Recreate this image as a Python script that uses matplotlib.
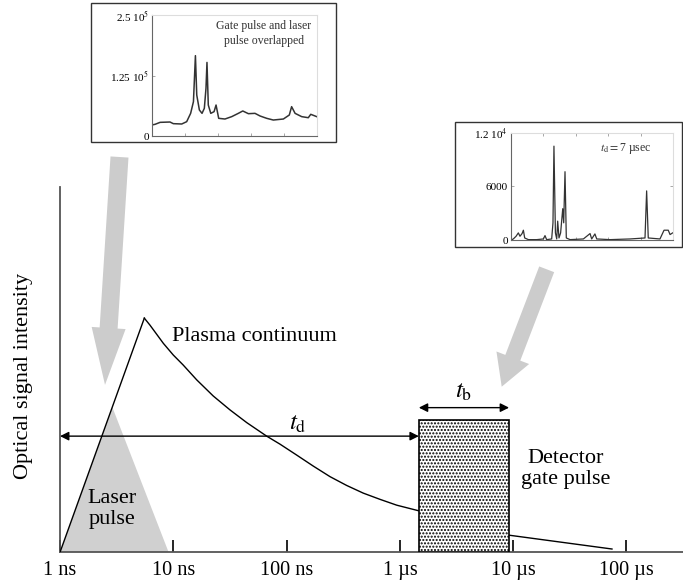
import numpy as np
import matplotlib
matplotlib.use('Agg')
import matplotlib.pyplot as plt
from matplotlib.patches import Rectangle, Polygon, FancyArrow

plt.rcParams['font.family'] = ['Liberation Serif', 'DejaVu Serif']
plt.rcParams['mathtext.fontset'] = 'stix'
plt.rcParams['hatch.linewidth'] = 1.0

W, H = 683, 584

# main schematic: time in ns, intensity in fraction of axis height
tick_times = [1, 10, 100, 1e3, 1e4, 1e5]
tick_labels = ['1 ns', '10 ns', '100 ns', '1 µs', '10 µs', '100 µs']

rise_t = [1.0, 5.55]
rise_i = [0.0, 0.641]
decay_t = [5.55, 6.22, 7.13, 8.17, 10.0, 12.2, 16.1, 22.5, 31.6, 44.5, 66.7, 87.5, 123,
           172, 242, 339, 475, 667, 938, 1452, 9120, 74500]
decay_i = [0.641, 0.622, 0.597, 0.572, 0.540, 0.513, 0.472, 0.428, 0.390, 0.355, 0.318,
           0.296, 0.266, 0.236, 0.207, 0.183, 0.162, 0.145, 0.129, 0.114, 0.047, 0.009]

laser_t = [1.0, 2.9, 9.1]
laser_i = [0.0, 0.397, 0.0]

gate_start, gate_end, gate_height = 1470, 9200, 0.362
td_level = 0.318
tb_level = 0.396

# inset 1: gate pulse and laser pulse overlapped
spec1_x = [0, 2.0, 5.1, 11.1, 13.1, 18.2, 21.2, 23.6, 25.3, 26.5, 27.3, 28.9, 30.5, 31.9,
           32.9, 33.5, 34.3, 35.8, 37.8, 39.0, 40.6, 44.4, 48.5, 52.5, 55.2, 58.6, 62.6,
           65.7, 69.7, 73.7, 79.8, 83.4, 84.8, 86.9, 90.9, 94.9, 96.4, 100]
spec1_y = [22.7e3, 24.1e3, 28.2e3, 28.9e3, 25.5e3, 24.8e3, 29.6e3, 46.8e3, 71e3, 166e3,
           84.7e3, 53.7e3, 46.8e3, 57.2e3, 98.5e3, 152e3, 64e3, 46.8e3, 50.3e3, 64e3,
           36.5e3, 35.1e3, 40e3, 46.8e3, 51.7e3, 46.1e3, 46.8e3, 41.3e3, 36.5e3, 33e3,
           35.1e3, 43.4e3, 60.6e3, 46.8e3, 40e3, 37.8e3, 44.8e3, 40e3]

# inset 2: td = 7 usec
spec2_x = [0, 1.6, 3.3, 4.7, 5.7, 7.0, 7.8, 8.6, 10.9, 16.0, 20.1, 21.1, 22.1, 25.2, 26.0,
           26.6, 27.5, 28.3, 28.9, 29.7, 30.7, 32.0, 32.6, 33.4, 34.2, 36.5, 44.7, 48.8,
           49.8, 51.8, 52.9, 61.1, 73.4, 82.6, 83.6, 84.6, 91.8, 94.3, 96.9, 98.0, 99.6]
spec2_y = [0, 150, 450, 825, 450, 750, 1125, 260, 75, 75, 150, 525, 75, 150, 1950,
           10500, 825, 150, 2140, 260, 825, 3525, 1950, 7650, 260, 75, 150, 750,
           150, 710, 150, 75, 150, 260, 5510, 260, 150, 1125, 1125, 640, 825]


def px_rect(x0, y0, x1, y1):
    return [x0 / W, 1 - y1 / H, (x1 - x0) / W, (y1 - y0) / H]


fig = plt.figure(figsize=(W / 100, H / 100), dpi=100)

# overlay in pixel coordinates for frames and big gray arrows
over = fig.add_axes([0, 0, 1, 1])
over.set_xlim(0, W)
over.set_ylim(H, 0)
over.axis('off')
over.add_patch(Rectangle((91, 3), 245, 139, fill=False, ec='#333333', lw=1.0))
over.add_patch(Rectangle((455, 122), 227, 125, fill=False, ec='#333333', lw=1.0))
over.add_patch(FancyArrow(119.5, 157, -14.5 * (171 / 228), 171, width=18, head_width=34,
                          head_length=57, length_includes_head=False, color='#cccccc', lw=0))
dx, dy = 501.7 - 546.7, 386.7 - 269.3
L = np.hypot(dx, dy)
sl = L - 31
over.add_patch(FancyArrow(546.7, 269.3, dx * sl / L, dy * sl / L, width=16, head_width=35,
                          head_length=31, color='#cccccc', lw=0))

# main axes
ax = fig.add_axes(px_rect(60, 187, 683, 552.3))
ax.patch.set_alpha(0)
ax.set_xscale('log')
ax.set_xlim(1, 10 ** 5.499)
ax.set_ylim(0, 1)
for s in ['top', 'right']:
    ax.spines[s].set_visible(False)
for s in ['left', 'bottom']:
    ax.spines[s].set_color('#555555')
    ax.spines[s].set_linewidth(1.3)
ax.set_yticks([])
ax.set_xticks(tick_times)
ax.set_xticklabels(tick_labels, fontsize=14.6)
ax.minorticks_off()
ax.tick_params(axis='x', direction='in', length=9, width=1.2, color='black', pad=6)
ax.text(-36 / 623, 0.4826, 'Optical signal intensity', fontsize=16, rotation=90,
        ha='center', va='center', transform=ax.transAxes)

ax.add_patch(Polygon(list(zip(laser_t, laser_i)), closed=True, fc='#d0d0d0', ec='none', zorder=1))
ax.plot(rise_t, rise_i, color='black', lw=1.0, zorder=3)
ax.plot(decay_t, decay_i, color='black', lw=1.0, zorder=3)
ax.add_patch(Rectangle((gate_start, 0), gate_end - gate_start, gate_height, fc='white',
                       ec='black', lw=1.2, hatch='.....', zorder=4))

arrow_kw = dict(arrowstyle='<|-|>', color='black', lw=1.0, mutation_scale=13, shrinkA=0, shrinkB=0)
ax.annotate('', xy=(gate_start, td_level), xytext=(1, td_level), arrowprops=arrow_kw, zorder=5)
ax.annotate('', xy=(gate_end, tb_level), xytext=(gate_start, tb_level), arrowprops=arrow_kw, zorder=5)

ax.text(126, 0.352, r'$t_{\rm d}$', fontsize=18, ha='center', va='center')
ax.text(3680, 0.44, r'$t_{\rm b}$', fontsize=18, ha='center', va='center')
ax.text(9.75, 0.59, 'Plasma continuum', fontsize=16, ha='left', va='center')
ax.text(2.9, 0.118, 'Laser\npulse', fontsize=16, ha='center', va='center', linespacing=1.15)
ax.text(2.92e4, 0.227, 'Detector\ngate pulse', fontsize=16, ha='center', va='center', linespacing=1.15)

# inset 1
in1 = fig.add_axes(px_rect(151.7, 15, 316.7, 136))
in1.plot(spec1_x, spec1_y, color='#333333', lw=1.1)
in1.set_xlim(0, 100)
in1.set_ylim(0, 2.5e5)
in1.set_yticks([0, 1.25e5, 2.5e5])
in1.set_yticklabels(['0', r'1.25 10$^5$', r'2.5 10$^5$'], fontsize=8)
in1.set_xticks([20, 40, 60, 80])
in1.set_xticklabels([])
in1.tick_params(direction='in', length=2, width=0.6, pad=2, color='#999999')
for s in ['top', 'right']:
    in1.spines[s].set_color('#dddddd')
for s in ['left', 'bottom']:
    in1.spines[s].set_color('#666666')
    in1.spines[s].set_linewidth(0.8)
in1.text(68, 2.12e5, 'Gate pulse and laser\npulse overlapped', fontsize=8.5, ha='center',
         va='center', color='#333333', linespacing=1.3)

# inset 2
in2 = fig.add_axes(px_rect(510.7, 132.7, 673.3, 240.3))
in2.plot(spec2_x, spec2_y, color='#333333', lw=0.9)
in2.set_xlim(0, 100)
in2.set_ylim(0, 12000)
in2.set_yticks([0, 6000, 12000])
in2.set_yticklabels(['0', '6000', r'1.2 10$^4$'], fontsize=8)
in2.set_xticks([20, 40, 60, 80])
in2.set_xticklabels([])
in2.tick_params(direction='in', length=2, width=0.6, pad=2, color='#999999', top=True, right=True)
for s in ['top', 'right']:
    in2.spines[s].set_color('#dddddd')
for s in ['left', 'bottom']:
    in2.spines[s].set_color('#666666')
    in2.spines[s].set_linewidth(0.8)
in2.text(71, 10200, r'$t_{\rm d}$$=$7 µsec', fontsize=8.5, ha='center', va='center', color='#333333')

fig.savefig('out.png', dpi=100)
